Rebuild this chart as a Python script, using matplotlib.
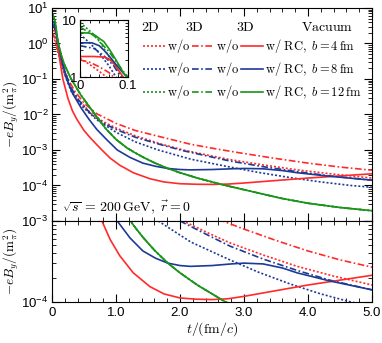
import numpy as np
import matplotlib.pyplot as plt
from matplotlib.lines import Line2D
from matplotlib.ticker import LogLocator, MultipleLocator, FuncFormatter, NullFormatter

plt.rcParams['font.family'] = ['Liberation Sans', 'DejaVu Sans']
plt.rcParams['mathtext.fontset'] = 'cm'

# ----- values: t in fm/c, lg = log10(-eB_y / m_pi^2) -----
# 3D w/ RC (solid)
t_rc4 = [0, 0.03, 0.05, 0.06, 0.07, 0.08, 0.09, 0.12, 0.17, 0.25, 0.32, 0.39, 0.5, 0.6, 0.7, 0.78,
         0.91, 1.06, 1.27, 1.53, 1.75, 2.0, 2.25, 2.5, 2.75, 3.0, 3.5, 4.0, 4.5, 5.0]
lg_rc4 = [0.36, 0.36, 0.35, 0.32, 0.24, 0.12, 0.0, -0.45, -1.0, -1.55, -1.9, -2.14, -2.45, -2.66, -2.85, -3.0,
          -3.23, -3.43, -3.64, -3.81, -3.9, -3.95, -3.965, -3.97, -3.96, -3.93, -3.86, -3.79, -3.73, -3.67]

t_rc8 = [0, 0.025, 0.04, 0.05, 0.0625, 0.075, 0.09, 0.1, 0.15, 0.23, 0.32, 0.45, 0.58, 0.7, 0.85, 1.02,
         1.22, 1.42, 1.62, 1.81, 2.0, 2.16, 2.5, 2.8, 3.0, 3.3, 3.6, 3.83, 4.34, 5.0]
lg_rc8 = [0.6, 0.6, 0.55, 0.47, 0.35, 0.22, 0.07, -0.02, -0.45, -1.0, -1.4, -1.8, -2.14, -2.42, -2.7, -3.0,
          -3.21, -3.37, -3.46, -3.52, -3.55, -3.56, -3.55, -3.53, -3.52, -3.53, -3.58, -3.64, -3.74, -3.85]

t_rc12 = [0, 0.02, 0.03, 0.05, 0.0625, 0.075, 0.09, 0.1, 0.15, 0.2, 0.3, 0.45, 0.6, 0.73, 0.85, 1.0,
          1.17, 1.3, 1.42, 1.6, 1.81, 2.0, 2.27, 2.67, 3.1, 3.58, 4.0, 4.5, 5.0]
lg_rc12 = [0.78, 0.77, 0.74, 0.62, 0.47, 0.3, 0.08, -0.02, -0.35, -0.62, -1.0, -1.45, -1.82, -2.14, -2.42, -2.7,
           -2.94, -3.08, -3.2, -3.36, -3.52, -3.64, -3.79, -3.98, -4.16, -4.36, -4.5, -4.62, -4.71]

# 3D w/o (dash-dot)
t_3d4 = [0, 0.02, 0.04, 0.06, 0.07, 0.1, 0.15, 0.2, 0.28, 0.36, 0.5, 0.7, 1.0, 1.3, 1.72, 2.17, 2.6,
         3.0, 3.5, 4.0, 4.5, 5.0]
lg_3d4 = [0.3, 0.26, 0.18, 0.08, 0.0, -0.22, -0.55, -0.8, -1.1, -1.35, -1.68, -1.98, -2.25, -2.45, -2.64, -2.84, -2.98,
          -3.1, -3.24, -3.37, -3.48, -3.57]

t_3d8 = [0, 0.03, 0.05, 0.07, 0.085, 0.12, 0.2, 0.3, 0.41, 0.6, 0.8, 1.0, 1.3, 1.72, 2.05, 2.5, 2.78,
         3.3, 3.83, 4.34, 5.0]
lg_3d8 = [0.55, 0.5, 0.37, 0.2, 0.0, -0.28, -0.78, -1.25, -1.58, -1.97, -2.24, -2.42, -2.64, -2.86, -3.02, -3.2, -3.31,
          -3.47, -3.61, -3.73, -3.85]

t_3d12 = [0, 0.03, 0.06, 0.09, 0.1, 0.15] + t_rc12[9:]
lg_3d12 = [0.88, 0.72, 0.45, 0.1, 0.0, -0.38] + lg_rc12[9:]

# 2D w/o (dotted)
t_2d4 = [0, 0.02, 0.04, 0.055, 0.08, 0.1, 0.15, 0.2, 0.3, 0.41, 0.6, 0.8, 1.0, 1.3, 1.72, 2.05, 2.5,
         2.78, 3.3, 3.83, 4.4, 5.0]
lg_2d4 = [0.33, 0.22, 0.1, 0.0, -0.17, -0.3, -0.6, -0.88, -1.28, -1.58, -1.95, -2.2, -2.38, -2.6, -2.84, -3.0, -3.17,
          -3.27, -3.42, -3.56, -3.68, -3.79]

t_2d8 = [0, 0.02, 0.04, 0.06, 0.075, 0.12, 0.2, 0.3, 0.47, 0.7, 1.0, 1.3, 1.66, 2.17, 2.78, 3.22, 3.73,
         4.2, 4.67, 5.0]
lg_2d8 = [0.75, 0.6, 0.42, 0.2, 0.0, -0.38, -0.88, -1.35, -1.77, -2.15, -2.5, -2.77, -3.0, -3.26, -3.48, -3.63, -3.78,
          -3.9, -4.0, -4.05]

t_2d12 = [0, 0.035, 0.0625, 0.0875, 0.1, 0.15] + t_rc12[9:]
lg_2d12 = [0.96, 0.7, 0.33, 0.0, -0.12, -0.4] + lg_rc12[9:]

b_labels = ['4', '8', '12']
red, blue, green = '#ff2a2a', '#1c3a96', '#1a941a'
dotted = (0, (1.2, 1.2))
dashdot = (0, (4, 1.5, 1, 1.5))

curves = [
    (t_2d4, lg_2d4, red, dotted), (t_2d8, lg_2d8, blue, dotted), (t_2d12, lg_2d12, green, dotted),
    (t_3d4, lg_3d4, red, dashdot), (t_3d8, lg_3d8, blue, dashdot), (t_3d12, lg_3d12, green, dashdot),
    (t_rc4, lg_rc4, red, '-'), (t_rc8, lg_rc8, blue, '-'), (t_rc12, lg_rc12, green, '-'),
]


def draw(ax):
    for t, lg, c, ls in curves:
        ax.plot(t, 10 ** np.array(lg), color=c, ls=ls, lw=1.2)


def dec_fmt(v, pos):
    return r'$\mathdefault{10^{%d}}$' % int(round(np.log10(v)))


def style(ax):
    ax.tick_params(which='both', direction='in', top=True, right=True, labelsize=9.5)
    ax.tick_params(which='major', length=6, width=0.8)
    ax.tick_params(which='minor', length=3, width=0.6)
    ax.tick_params(axis='y', pad=2.5)


fig = plt.figure(figsize=(3.82, 3.43), dpi=100)
ax1 = fig.add_axes([0.1361, 0.3557, 0.8377, 0.621])
ax2 = fig.add_axes([0.1361, 0.1195, 0.8377, 0.2362])
ins = fig.add_axes([0.2094, 0.7755, 0.1257, 0.166])

# ----- top panel -----
draw(ax1)
ax1.set_yscale('log')
ax1.set_xlim(0, 5)
ax1.set_ylim(1e-5, 10)
ax1.yaxis.set_major_locator(LogLocator(base=10, numticks=10))
ax1.yaxis.set_minor_locator(LogLocator(base=10, subs=np.arange(2, 10), numticks=20))
ax1.yaxis.set_major_formatter(FuncFormatter(lambda v, p: '' if v < 3e-5 else dec_fmt(v, p)))
ax1.yaxis.set_minor_formatter(NullFormatter())
ax1.xaxis.set_major_locator(MultipleLocator(1.0))
ax1.xaxis.set_minor_locator(MultipleLocator(0.2))
ax1.set_xticklabels([])
style(ax1)
ax1.set_ylabel(r'$-eB_y/(\mathrm{m}_\pi^2)$', fontsize=9.5, labelpad=0)
ax1.text(0.03, 0.065, r'$\sqrt{s}\,=\,200\,\mathrm{GeV},\ \vec{r}=\mathbf{0}$',
         transform=ax1.transAxes, fontsize=10, va='center')

handles = [Line2D([], [], color=c, ls=ls, lw=1.2) for _, _, c, ls in curves]
labels = [r'$\mathrm{w/o}$'] * 6 + [r'$\mathrm{w/\ RC},\ b=%s\,\mathrm{fm}$' % b for b in b_labels]
ax1.legend(handles, labels, ncol=3, frameon=False, fontsize=9, loc='upper left',
           bbox_to_anchor=(0.265, 0.893), borderpad=0, handlelength=1.8, handletextpad=0.15,
           columnspacing=0.1, labelspacing=0.4)
for x, s in [(0.306, '2D'), (0.444, '3D'), (0.603, '3D'), (0.859, 'Vacuum')]:
    ax1.text(x, 0.911, r'$\mathrm{%s}$' % s, transform=ax1.transAxes, fontsize=10,
             ha='center', va='center')

# ----- inset -----
draw(ins)
ins.set_yscale('log')
ins.set_xlim(0, 0.1)
ins.set_ylim(1, 10)
ins.set_xticks([0, 0.1])
ins.set_xticklabels(['0', '0.1'])
ins.xaxis.set_minor_locator(MultipleLocator(0.02))
ins.set_yticks([1, 10])
ins.set_yticklabels(['1', '10'])
ins.yaxis.set_minor_locator(LogLocator(base=10, subs=np.arange(2, 10), numticks=20))
ins.yaxis.set_minor_formatter(NullFormatter())
style(ins)
ins.tick_params(which='major', length=4, pad=2)
ins.tick_params(which='minor', length=2)

# ----- bottom panel -----
draw(ax2)
ax2.set_yscale('log')
ax2.set_xlim(0, 5)
ax2.set_ylim(1e-4, 1e-3)
ax2.yaxis.set_major_locator(LogLocator(base=10, numticks=10))
ax2.yaxis.set_minor_locator(LogLocator(base=10, subs=np.arange(2, 10), numticks=20))
ax2.yaxis.set_major_formatter(FuncFormatter(dec_fmt))
ax2.yaxis.set_minor_formatter(NullFormatter())
ax2.xaxis.set_major_locator(MultipleLocator(1.0))
ax2.xaxis.set_minor_locator(MultipleLocator(0.2))
ax2.xaxis.set_major_formatter(FuncFormatter(lambda v, p: '0' if v == 0 else '%.1f' % v))
style(ax2)
ax2.set_ylabel(r'$-eB_y/(\mathrm{m}_\pi^2)$', fontsize=9.5, labelpad=0)
ax2.set_xlabel(r'$t/(\mathrm{fm}/c)$', fontsize=10, labelpad=1)

fig.savefig('out.png', dpi=100)
